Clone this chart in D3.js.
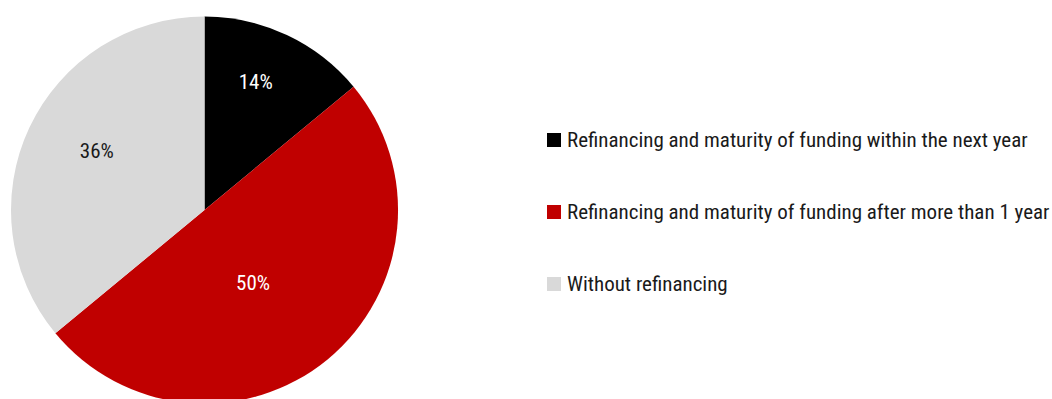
<!DOCTYPE html>
<html>
<head>
<meta charset="utf-8">
<script src="https://cdn.jsdelivr.net/npm/d3@7"></script>
<style>
  body { margin: 0; background: #fff; }
  text { font-family: "Roboto Condensed", "Liberation Sans Narrow", "Roboto", sans-serif; }
</style>
</head>
<body>
<svg id="pie-chart" width="1052" height="399"></svg>
<script>
// slice data, clockwise from 12 o'clock
const categories = [
  'Refinancing and maturity of funding within the next year',
  'Refinancing and maturity of funding after more than 1 year',
  'Without refinancing'
];
const shares = [14, 50, 36];
const labels = ['14%', '50%', '36%'];

const colors = ['#000000', '#c00000', '#d9d9d9'];
const labelColors = ['#ffffff', '#ffffff', '#1a1a1a'];
// label placement: fraction of radius + small angle nudge (deg), excel-ish best fit
const labelRadius = [0.713, 0.451, 0.636];
const labelNudge = [-3.4, 5.8, 3.8];

const svg = d3.select('#pie-chart'),
  cx = 204.5,
  cy = 210,
  radius = 193.5;

const g = svg.append('g')
  .attr('transform', 'translate(' + cx + ',' + cy + ')');

const pie = d3.pie().sort(null).value(function(d) { return d; });
const arcs = pie(shares);
const arc = d3.arc().innerRadius(0).outerRadius(radius);

g.selectAll('path')
  .data(arcs)
  .enter().append('path')
  .attr('fill', function(d, i) { return colors[i]; })
  .attr('d', arc);

g.selectAll('text.lbl')
  .data(arcs)
  .enter().append('text')
  .attr('class', 'lbl')
  .attr('transform', function(d, i) {
    const a = (d.startAngle + d.endAngle) / 2 + labelNudge[i] * Math.PI / 180;
    const r = radius * labelRadius[i];
    return 'translate(' + (Math.sin(a) * r) + ',' + (-Math.cos(a) * r) + ')';
  })
  .attr('text-anchor', 'middle')
  .attr('dy', '0.35em')
  .attr('font-size', 21)
  .attr('fill', function(d, i) { return labelColors[i]; })
  .text(function(d, i) { return labels[i]; });

// legend
const legend = svg.append('g')
  .attr('transform', 'translate(547,140)');
const y = d3.scalePoint().domain(categories).range([0, 144]);

const item = legend.selectAll('g')
  .data(categories)
  .enter().append('g')
  .attr('transform', function(d) { return 'translate(0,' + y(d) + ')'; });

item.append('rect')
  .attr('x', 0)
  .attr('y', -7)
  .attr('width', 14)
  .attr('height', 14)
  .attr('fill', function(d, i) { return colors[i]; });

item.append('text')
  .attr('x', 20)
  .attr('dy', '0.35em')
  .attr('font-size', 21)
  .attr('fill', '#1a1a1a')
  .text(function(d) { return d; });
</script>
</body>
</html>
